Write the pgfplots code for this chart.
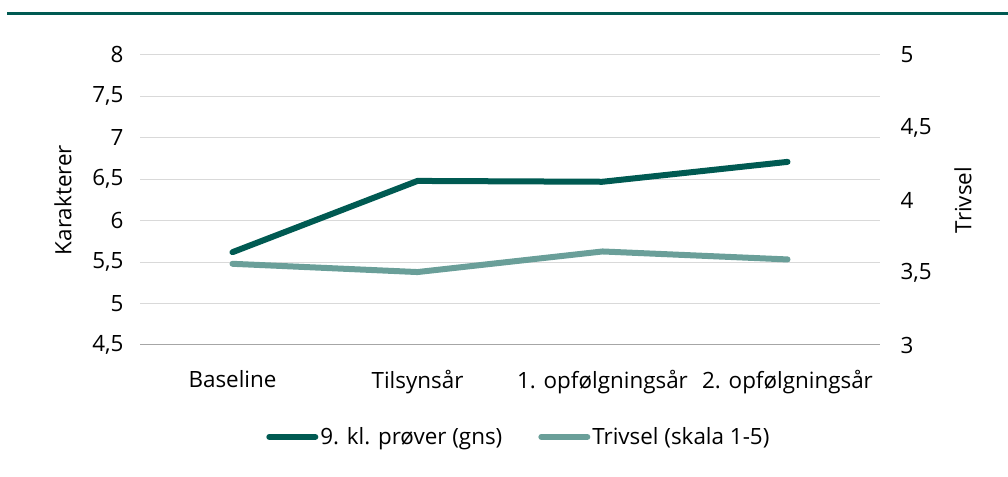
\documentclass[border=0pt]{standalone}
\usepackage{fontspec}
\setmainfont{Open Sans}
\usepackage{pgfplots}
\pgfplotsset{compat=1.18}
\definecolor{dk}{HTML}{005A52}
\definecolor{lt}{HTML}{6A9F99}
\definecolor{gridc}{HTML}{D9D9D9}
\newcommand{\fs}{\fontsize{22.5}{27}\selectfont}
\begin{document}
\begin{tikzpicture}[x=1bp,y=1bp]
\useasboundingbox (0,0) rectangle (1008,477);
\draw[dk, line width=3bp] (7,463) -- (1008,463);
\begin{axis}[
  at={(140bp,132bp)}, anchor=south west,
  scale only axis, width=740bp, height=290bp,
  xmin=-0.5, xmax=3.5, ymin=4.5, ymax=8,
  ytick={4.5,5,5.5,6,6.5,7,7.5,8},
  xtick={0,1,2,3},
  xticklabels={Baseline, Tilsynsår, 1. opfølgningsår, 2. opfølgningsår},
  major tick length=0pt,
  axis x line*=bottom, axis y line*=left,
  x axis line style={draw=black!35, line width=1bp},
  y axis line style={draw=none},
  ymajorgrids, grid style={gridc, line width=1bp},
  /pgf/number format/use comma,
  /pgf/number format/assume math mode=true,
  yticklabel style={font=\fs, xshift=-13bp},
  xticklabel style={font=\fs, yshift=-22bp},
  ylabel={Karakterer},
  ylabel style={font=\fs, at={(axis description cs:-0.104,0.5)}, anchor=center},
]
\addplot[dk, line width=6bp, line cap=round, line join=round] coordinates {(0,5.62) (1,6.48) (2,6.47) (3,6.71)};
\end{axis}
\begin{axis}[
  at={(140bp,132bp)}, anchor=south west,
  scale only axis, width=740bp, height=290bp,
  xmin=-0.5, xmax=3.5, ymin=3, ymax=5,
  ytick={3,3.5,4,4.5,5},
  major tick length=0pt,
  axis x line=none, axis y line*=right,
  y axis line style={draw=none},
  /pgf/number format/use comma,
  /pgf/number format/assume math mode=true,
  yticklabel style={font=\fs, xshift=17bp},
  ylabel={Trivsel},
  ylabel style={font=\fs, at={(axis description cs:1.112,0.5)}, anchor=center},
  legend style={at={(0.512,-0.317)}, anchor=center, draw=none, fill=none,
    font=\fs, column sep=0pt,
    /tikz/every even column/.append style={column sep=34bp},
    nodes={inner xsep=2bp}},
  legend columns=2,
  legend image code/.code={\draw[#1, line width=6bp, line cap=round] (0bp,0bp) -- (46bp,0bp);},
]
\addlegendimage{dk}
\addlegendentry{9. kl. prøver (gns)}
\addplot[lt, line width=6bp, line cap=round, line join=round] coordinates {(0,3.56) (1,3.503) (2,3.645) (3,3.59)};
\addlegendentry{Trivsel (skala 1-5)}
\end{axis}
\end{tikzpicture}
\end{document}
